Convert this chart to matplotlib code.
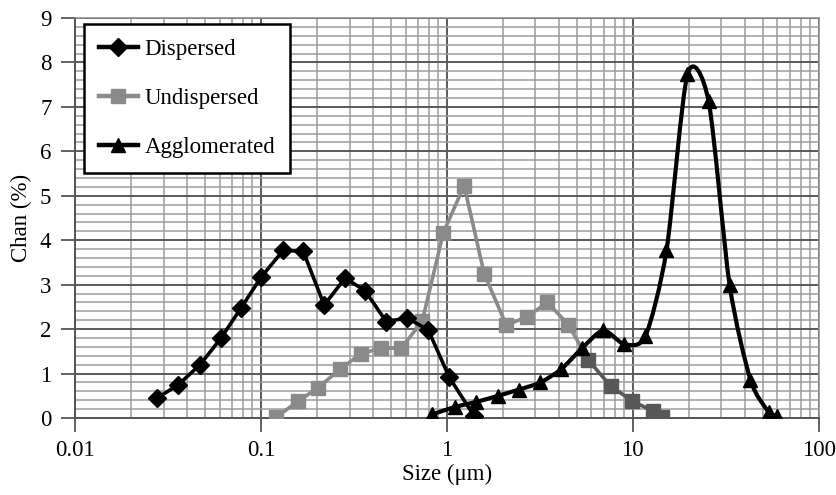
import numpy as np
import matplotlib
matplotlib.use("Agg")
import matplotlib.pyplot as plt
from matplotlib.path import Path
from matplotlib.patches import PathPatch
from matplotlib.lines import Line2D
from matplotlib.ticker import MultipleLocator, LogLocator, FixedLocator, FixedFormatter, NullFormatter

matplotlib.rcParams['font.family'] = ['Liberation Serif', 'DejaVu Serif']

# values
size_disp = [0.0276, 0.0358, 0.0471, 0.0611, 0.0783, 0.1003, 0.1318, 0.1689,
             0.219, 0.284, 0.364, 0.472, 0.613, 0.795, 1.03, 1.40]
chan_disp = [0.45, 0.74, 1.20, 1.80, 2.48, 3.17, 3.77, 3.75,
             2.54, 3.15, 2.86, 2.17, 2.25, 1.98, 0.92, 0.05]

size_undisp = [0.121, 0.159, 0.203, 0.267, 0.347, 0.444, 0.569, 0.738, 0.958, 1.24,
               1.59, 2.09, 2.71, 3.48, 4.51, 5.78, 7.6, 9.97, 12.9, 14.4]
chan_undisp = [0.02, 0.38, 0.68, 1.10, 1.45, 1.57, 1.57, 2.18, 4.17, 5.23,
               3.24, 2.09, 2.28, 2.60, 2.10, 1.30, 0.72, 0.38, 0.15, 0.02]

size_agg = [0.835, 1.11, 1.44, 1.89, 2.45, 3.19, 4.13, 5.37, 6.96, 9.03,
            11.7, 15.2, 19.7, 25.6, 33.2, 43.0, 53.8, 60.1]
chan_agg = [0.08, 0.25, 0.36, 0.50, 0.64, 0.80, 1.10, 1.58, 1.97, 1.66,
            1.84, 3.77, 7.73, 7.13, 3.00, 0.86, 0.14, 0.05]

x_ticks = [0.01, 0.1, 1, 10, 100]
x_ticklabels = ["0.01", "0.1", "1", "10", "100"]
labels = ["Dispersed", "Undispersed", "Agglomerated"]

light_gray = "#8a8a8a"
dark_gray = "#585858"
fs = 16.5


def smooth_path(x, y, t=0.13):
    # bezier through the points (catmull-rom style), built in log-x space
    u = np.log10(np.asarray(x, float))
    v = np.asarray(y, float)
    pu = np.concatenate([[u[0]], u, [u[-1]]])
    pv = np.concatenate([[v[0]], v, [v[-1]]])
    verts = [(10 ** u[0], v[0])]
    codes = [Path.MOVETO]
    for i in range(len(u) - 1):
        c1u = pu[i + 1] + (pu[i + 2] - pu[i]) * t
        c1v = pv[i + 1] + (pv[i + 2] - pv[i]) * t
        c2u = pu[i + 2] - (pu[i + 3] - pu[i + 1]) * t
        c2v = pv[i + 2] - (pv[i + 3] - pv[i + 1]) * t
        verts += [(10 ** c1u, c1v), (10 ** c2u, c2v), (10 ** u[i + 1], v[i + 1])]
        codes += [Path.CURVE4] * 3
    return Path(verts, codes)


fig = plt.figure(figsize=(8.37, 4.95), dpi=100)
ax = fig.add_axes([0.0896, 0.1556, 0.8884, 0.808])

ax.set_xscale("log")
ax.set_xlim(0.01, 100)
ax.set_ylim(0, 9)

ax.xaxis.set_major_locator(FixedLocator(x_ticks))
ax.xaxis.set_major_formatter(FixedFormatter(x_ticklabels))
ax.xaxis.set_minor_locator(LogLocator(base=10, subs=np.arange(2, 10)))
ax.xaxis.set_minor_formatter(NullFormatter())
ax.yaxis.set_major_locator(MultipleLocator(1))
ax.yaxis.set_minor_locator(MultipleLocator(0.2))

ax.grid(which="major", color="#5a5a5a", lw=1.4)
ax.grid(which="minor", color="#9c9c9c", lw=1.1)
ax.set_axisbelow(True)

for s in ["left", "bottom"]:
    ax.spines[s].set_color("#555555")
    ax.spines[s].set_linewidth(1.4)
for s in ["top", "right"]:
    ax.spines[s].set_color("#8a8a8a")
    ax.spines[s].set_linewidth(1.1)

ax.tick_params(which="major", direction="out", length=10, width=1.3, color="#555555",
               labelsize=fs, pad=6)
ax.tick_params(which="minor", length=0)
ax.tick_params(axis="y", pad=7)

lw = 2.6
# Dispersed
ax.plot(size_disp, chan_disp, color="black", lw=lw, marker="D", ms=9, zorder=5)

# Undispersed (tail after ~5 um is drawn in a darker grey in the reference)
k = 15
ax.plot(size_undisp[:k], chan_undisp[:k], color=light_gray, lw=lw, marker="s", ms=10.5,
        zorder=4)
ax.plot(size_undisp[k - 1:k + 1], chan_undisp[k - 1:k + 1], color=light_gray, lw=lw,
        zorder=4)
ax.plot(size_undisp[k:], chan_undisp[k:], color=dark_gray, lw=lw, marker="s", ms=10.5,
        zorder=4)

# Agglomerated, smoothed line
ax.add_patch(PathPatch(smooth_path(size_agg, chan_agg), facecolor="none",
                       edgecolor="black", lw=lw + 0.4, zorder=6, capstyle="round"))
ax.plot(size_agg, chan_agg, ls="none", marker="^", ms=10.5, color="black", zorder=7)

ax.set_xlabel("Size (\u03bcm)", fontsize=fs, labelpad=2)
ax.set_ylabel("Chan (%)", fontsize=fs, labelpad=6)

handles = [
    Line2D([], [], color="black", lw=lw + 0.6, marker="D", ms=9),
    Line2D([], [], color=light_gray, lw=lw + 0.6, marker="s", ms=10.5),
    Line2D([], [], color="black", lw=lw + 0.6, marker="^", ms=10.5),
]
leg = ax.legend(handles, labels, loc="upper left", bbox_to_anchor=(0.012, 0.985),
                fontsize=fs, frameon=True, fancybox=False, framealpha=1,
                edgecolor="black", borderpad=0.65, labelspacing=1.23,
                handlelength=1.7, handletextpad=0.3, borderaxespad=0)
leg.get_frame().set_linewidth(1.8)
leg.set_zorder(10)

plt.savefig("out.png", dpi=100)
